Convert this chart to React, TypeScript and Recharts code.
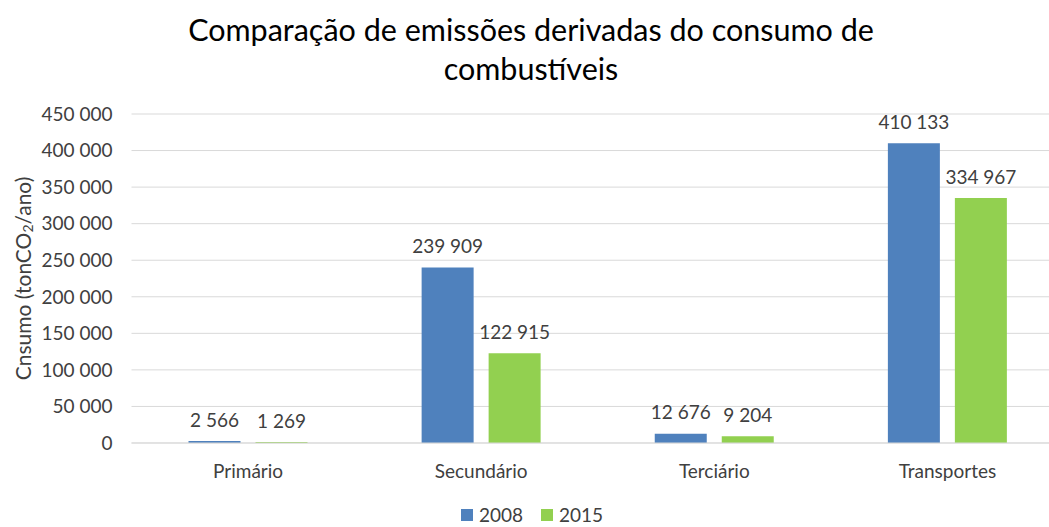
import { BarChart, Bar, XAxis, YAxis, CartesianGrid, Legend, LabelList } from 'recharts';

const categories = ['Primário', 'Secundário', 'Terciário', 'Transportes'];
const values2008 = [2566, 239909, 12676, 410133];
const values2015 = [1269, 122915, 9204, 334967];
const yTicks = [0, 50000, 100000, 150000, 200000, 250000, 300000, 350000, 400000, 450000];

const data = categories.map((name, i) => ({
  name,
  y2008: values2008[i],
  y2015: values2015[i],
}));

const BLUE = '#4F81BD';
const GREEN = '#92D050';
const FONT = 'Lato, "Open Sans", sans-serif';
const TEXT = '#404040';

// 450000 -> "450 000"
const fmt = (v: number | string) => String(v).replace(/\B(?=(\d{3})+(?!\d))/g, ' ');

function AxisTitle(props: any) {
  const vb = props.viewBox || { x: 0, y: 0, height: 0 };
  const cx = vb.x + 22;
  const cy = vb.y + vb.height / 2;
  return (
    <text
      x={cx}
      y={cy}
      transform={`rotate(-90 ${cx} ${cy})`}
      textAnchor="middle"
      dominantBaseline="central"
      fontSize={21}
      fontFamily={FONT}
      fill={TEXT}
    >
      Cnsumo (tonCO<tspan fontSize={14} dy={5}>2</tspan>
      <tspan dy={-5}>/ano)</tspan>
    </text>
  );
}

// label sits centred ~22px above the bar top, no wrapping
function BarValue(props: any) {
  const { x, y, width, value } = props;
  return (
    <text
      x={Number(x) + Number(width) / 2}
      y={Number(y) - 22}
      textAnchor="middle"
      dominantBaseline="central"
      fontSize={19}
      fontFamily={FONT}
      fill={TEXT}
    >
      {fmt(value)}
    </text>
  );
}

function LegendBox() {
  const item = (color: string, label: string) => (
    <span style={{ display: 'inline-flex', alignItems: 'center', margin: '0 9px' }}>
      <span style={{ width: 12, height: 12, background: color, marginRight: 6 }} />
      <span>{label}</span>
    </span>
  );
  return (
    <div
      style={{
        height: 24,
        lineHeight: '24px',
        display: 'flex',
        justifyContent: 'center',
        alignItems: 'center',
        fontFamily: FONT,
        fontSize: 19,
        color: TEXT,
      }}
    >
      {item(BLUE, '2008')}
      {item(GREEN, '2015')}
    </div>
  );
}

export default function App() {
  return (
    <div
      style={{
        position: 'fixed',
        left: 0,
        top: 0,
        width: 1049,
        height: 527,
        overflow: 'hidden',
        background: '#fff',
      }}
    >
      <div
        style={{
          position: 'absolute',
          left: 0,
          top: 10,
          width: 1062,
          textAlign: 'center',
          fontFamily: FONT,
          fontSize: 30.5,
          lineHeight: '39px',
          color: '#000',
          zIndex: 1,
        }}
      >
        Comparação de emissões derivadas do consumo de
        <br />
        combustíveis
      </div>
      <BarChart
        width={1064}
        height={527}
        data={data}
        margin={{ top: 114, right: 0, bottom: 0, left: 0 }}
        barGap={15}
        barSize={52}
      >
        <CartesianGrid vertical={false} stroke="#D9D9D9" />
        <XAxis
          dataKey="name"
          height={60}
          axisLine={{ stroke: '#D9D9D9' }}
          tickLine={false}
          tickSize={0}
          tickMargin={22}
          tick={{ fontSize: 19, fontFamily: FONT, fill: TEXT }}
        />
        <YAxis
          width={131.5}
          domain={[0, 450000]}
          ticks={yTicks}
          tickFormatter={fmt}
          axisLine={false}
          tickLine={false}
          tickSize={0}
          tickMargin={19}
          tick={{ fontSize: 19, fontFamily: FONT, fill: TEXT }}
          label={{ content: AxisTitle }}
        />
        <Legend verticalAlign="bottom" content={LegendBox} />
        <Bar dataKey="y2008" name="2008" fill={BLUE} isAnimationActive={false}>
          <LabelList dataKey="y2008" content={BarValue} />
        </Bar>
        <Bar dataKey="y2015" name="2015" fill={GREEN} isAnimationActive={false}>
          <LabelList dataKey="y2015" content={BarValue} />
        </Bar>
      </BarChart>
    </div>
  );
}
